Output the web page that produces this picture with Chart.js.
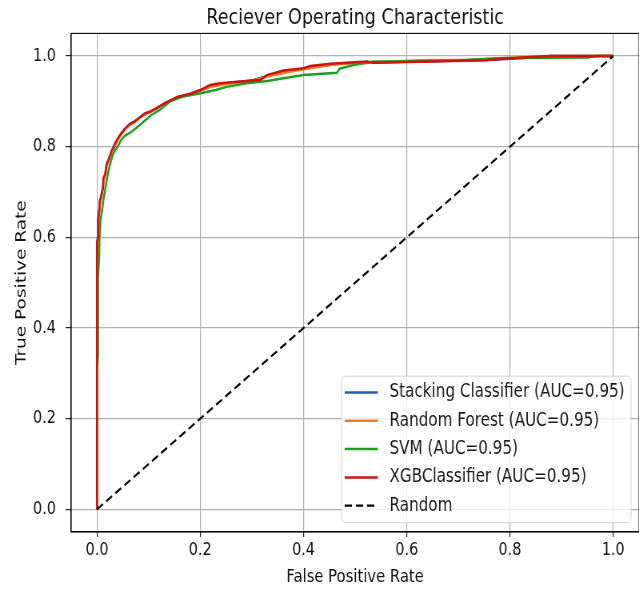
<!DOCTYPE html>
<html>
<head>
<meta charset="utf-8">
<script src="https://cdn.jsdelivr.net/npm/chart.js@4.4.1/dist/chart.umd.min.js"></script>
<style>
  body { margin: 0; background: #fff; }
</style>
</head>
<body>
<canvas id="chart" width="799" height="593" style="display:block;width:639px;height:593px"></canvas>
<script>
// ROC points (fpr / tpr)
const stackFpr = [0, 0, 0.002, 0.003, 0.005, 0.008, 0.012, 0.016, 0.019, 0.024, 0.029, 0.034, 0.040, 0.047, 0.055, 0.064, 0.075, 0.088, 0.100, 0.115, 0.130, 0.155, 0.180, 0.205, 0.225, 0.250, 0.300, 0.330, 0.365, 0.400, 0.440, 0.470, 0.540, 0.620, 0.750, 0.820, 0.880, 1];
const stackTpr = [0, 0.58, 0.61, 0.65, 0.67, 0.69, 0.72, 0.74, 0.76, 0.775, 0.79, 0.80, 0.815, 0.828, 0.84, 0.85, 0.858, 0.868, 0.876, 0.884, 0.895, 0.908, 0.916, 0.926, 0.935, 0.94, 0.946, 0.956, 0.966, 0.972, 0.979, 0.983, 0.986, 0.988, 0.991, 0.995, 1.0, 1];

const rfFpr = [0, 0, 0.003, 0.004, 0.007, 0.010, 0.014, 0.018, 0.022, 0.027, 0.033, 0.040, 0.048, 0.057, 0.066, 0.078, 0.090, 0.110, 0.130, 0.160, 0.190, 0.220, 0.260, 0.300, 0.330, 0.370, 0.420, 0.470, 0.550, 0.620, 0.720, 0.800, 0.880, 1];
const rfTpr = [0, 0.55, 0.60, 0.66, 0.68, 0.70, 0.73, 0.75, 0.77, 0.785, 0.80, 0.815, 0.83, 0.842, 0.85, 0.86, 0.87, 0.882, 0.895, 0.91, 0.92, 0.932, 0.94, 0.945, 0.955, 0.965, 0.975, 0.983, 0.986, 0.991, 0.992, 0.996, 1.0, 1];

const svmFpr = [0, 0, 0.002, 0.002, 0.004, 0.005, 0.007, 0.010, 0.012, 0.015, 0.018, 0.021, 0.025, 0.030, 0.034, 0.040, 0.047, 0.055, 0.067, 0.080, 0.093, 0.105, 0.120, 0.142, 0.165, 0.200, 0.230, 0.251, 0.290, 0.330, 0.361, 0.400, 0.465, 0.470, 0.497, 0.535, 0.600, 0.700, 0.790, 0.950, 0.970, 1];
const svmTpr = [0, 0.30, 0.34, 0.51, 0.55, 0.60, 0.64, 0.66, 0.68, 0.70, 0.72, 0.74, 0.76, 0.78, 0.79, 0.80, 0.815, 0.825, 0.833, 0.845, 0.858, 0.87, 0.88, 0.90, 0.91, 0.918, 0.925, 0.932, 0.94, 0.945, 0.951, 0.958, 0.963, 0.972, 0.98, 0.988, 0.988, 0.99, 0.996, 0.997, 1.0, 1];

const xgbFpr = [0, 0, 0.002, 0.002, 0.005, 0.005, 0.008, 0.012, 0.012, 0.016, 0.018, 0.022, 0.025, 0.028, 0.032, 0.036, 0.041, 0.047, 0.054, 0.063, 0.073, 0.083, 0.093, 0.103, 0.115, 0.130, 0.155, 0.175, 0.200, 0.219, 0.238, 0.290, 0.316, 0.329, 0.361, 0.400, 0.413, 0.452, 0.523, 0.536, 0.600, 0.749, 0.800, 0.878, 1];
const xgbTpr = [0, 0.59, 0.60, 0.64, 0.66, 0.68, 0.69, 0.71, 0.73, 0.74, 0.76, 0.77, 0.78, 0.79, 0.80, 0.81, 0.82, 0.83, 0.84, 0.85, 0.855, 0.865, 0.874, 0.877, 0.885, 0.895, 0.91, 0.915, 0.925, 0.936, 0.94, 0.945, 0.947, 0.958, 0.968, 0.973, 0.978, 0.983, 0.988, 0.985, 0.987, 0.991, 0.995, 1.0, 1];

const randFpr = [0, 1];
const randTpr = [0, 1];

const modelLabels = ['Stacking Classifier (AUC=0.95)', 'Random Forest (AUC=0.95)', 'SVM (AUC=0.95)', 'XGBClassifier (AUC=0.95)', 'Random'];
const lineColors = ['#1f5fa8', '#f27a1a', '#1ea01e', '#d01212', '#000000'];
const tickValues = [0, 0.2, 0.4, 0.6, 0.8, 1.0];

const toPoints = (xs, ys) => xs.map((x, i) => ({ x: x, y: ys[i] }));

const FONT = 'DejaVu Sans';

// box around the plot (top/right spines too)
const frame = {
  id: 'frame',
  afterDatasetsDraw(chart) {
    const { ctx, chartArea: a } = chart;
    ctx.save();
    ctx.strokeStyle = '#000';
    ctx.lineWidth = 1.1;
    ctx.strokeRect(a.left, a.top, a.right - a.left, a.bottom - a.top);
    ctx.restore();
  }
};

// legend in the lower right corner of the plot
const cornerLegend = {
  id: 'cornerLegend',
  afterDraw(chart) {
    const { ctx, chartArea: a } = chart;
    const sets = chart.data.datasets;
    const rowH = 28.3;
    ctx.save();
    ctx.font = '19px "' + FONT + '"';
    let maxW = 0;
    sets.forEach(d => { maxW = Math.max(maxW, ctx.measureText(d.label).width); });
    const w = 60 + maxW + 8;
    const h = rowH * sets.length + 5;
    const right = a.right - 10;
    const bottom = a.bottom - 9.3;
    const left = right - w;
    const top = bottom - h;
    ctx.beginPath();
    ctx.roundRect(left, top, w, h, 5);
    ctx.fillStyle = 'rgba(255,255,255,0.8)';
    ctx.fill();
    ctx.strokeStyle = '#d4d4d4';
    ctx.lineWidth = 1;
    ctx.stroke();
    sets.forEach((d, i) => {
      const y = top + 16.3 + i * rowH;
      ctx.beginPath();
      ctx.setLineDash(d.borderDash || []);
      ctx.strokeStyle = d.borderColor;
      ctx.lineWidth = d.borderWidth;
      ctx.moveTo(left + 4, y);
      ctx.lineTo(left + 45.5, y);
      ctx.stroke();
      ctx.setLineDash([]);
      ctx.fillStyle = '#1a1a1a';
      ctx.textBaseline = 'middle';
      ctx.fillText(d.label, left + 60, y);
    });
    ctx.restore();
  }
};

const seriesX = [stackFpr, rfFpr, svmFpr, xgbFpr, randFpr];
const seriesY = [stackTpr, rfTpr, svmTpr, xgbTpr, randTpr];

const datasets = modelLabels.map((lab, i) => ({
  label: lab,
  data: toPoints(seriesX[i], seriesY[i]),
  borderColor: lineColors[i],
  backgroundColor: lineColors[i],
  borderWidth: i === 4 ? 2.2 : 2.5,
  borderDash: i === 4 ? [9, 5] : [],
  pointRadius: 0,
  tension: 0,
  fill: false,
  order: 4 - i
}));

const ctx = document.getElementById('chart').getContext('2d');

new Chart(ctx, {
  type: 'line',
  data: { datasets: datasets },
  options: {
    responsive: false,
    maintainAspectRatio: false,
    devicePixelRatio: 1,
    animation: false,
    layout: { padding: 0 },
    scales: {
      x: {
        type: 'linear',
        min: -0.05,
        max: 1.05,
        afterBuildTicks: (scale) => { scale.ticks = tickValues.map(v => ({ value: v })); },
        afterFit: (scale) => { scale.height = 61; },
        ticks: {
          callback: (v) => v.toFixed(1),
          font: { family: FONT, size: 18 },
          color: '#111',
          padding: 3,
          maxRotation: 0
        },
        grid: { color: '#b0b0b0', lineWidth: 1.2, tickColor: '#222', tickLength: 5 },
        border: { display: true, color: '#000', width: 1.1 },
        title: {
          display: true,
          text: 'False Positive Rate',
          font: { family: FONT, size: 18.5 },
          color: '#111',
          padding: { top: 0, bottom: 5 }
        }
      },
      y: {
        type: 'linear',
        min: -0.05,
        max: 1.05,
        afterBuildTicks: (scale) => { scale.ticks = tickValues.map(v => ({ value: v })); },
        afterFit: (scale) => { scale.width = 89; },
        ticks: {
          callback: (v) => v.toFixed(1),
          font: { family: FONT, size: 18 },
          color: '#111',
          padding: 12
        },
        grid: { color: '#b0b0b0', lineWidth: 1.2, tickColor: '#222', tickLength: 7 },
        border: { display: true, color: '#000', width: 1.1 },
        title: {
          display: true,
          text: 'True Positive Rate',
          font: { family: FONT, size: 18.5 },
          color: '#111',
          padding: { top: 16, bottom: 0 }
        }
      }
    },
    plugins: {
      legend: { display: false },
      tooltip: { enabled: false },
      title: {
        display: true,
        fullSize: false,
        text: 'Reciever Operating Characteristic',
        font: { family: FONT, size: 22, weight: 'normal' },
        color: '#111',
        padding: { top: 5, bottom: 2 }
      }
    }
  },
  plugins: [frame, cornerLegend]
});
</script>
</body>
</html>
